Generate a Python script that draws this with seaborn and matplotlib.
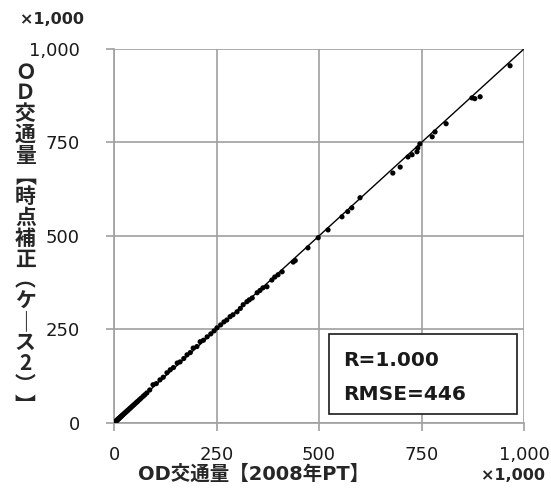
import matplotlib
matplotlib.use("Agg")
import matplotlib.pyplot as plt
import matplotlib.ticker as mticker
from matplotlib.patches import Rectangle
import pandas as pd
import seaborn as sns

# ── data (thousand trips) ────────────────────────────────────────────────
pt2008 = [2, 3, 4, 5, 6, 7, 8, 9, 10, 11, 12, 13, 15, 16, 18, 19, 21, 23, 25,
          27, 29, 31, 33, 35, 38, 40, 43, 46, 49, 52, 55, 58, 62, 66, 71, 75,
          80, 87, 95, 103, 112, 120, 129, 137, 145, 154, 161, 170, 178, 186,
          193, 202, 210, 218, 227, 236, 244, 251, 260, 268, 275, 283, 290,
          300, 308, 315, 324, 330, 337, 349, 356, 363, 373, 385, 392, 400,
          410, 437, 442, 473, 498, 522, 556, 570, 580, 600, 680, 698, 717,
          727, 739, 741, 746, 776, 783, 810, 873, 880, 893, 966]
case2 = [2, 3, 4, 5, 6, 7, 8, 9, 10, 11, 12, 13, 15, 16, 18, 19, 21, 23, 25,
         27, 29, 31, 33, 35, 38, 40, 43, 46, 49, 52, 55, 58, 62, 66, 71, 75,
         80, 88, 102, 105, 115, 122, 134, 142, 148, 160, 163, 172, 182, 188,
         200, 204, 217, 221, 230, 238, 246, 254, 262, 270, 275, 284, 289,
         297, 306, 316, 324, 329, 334, 348, 354, 361, 364, 382, 390, 396,
         404, 430, 434, 468, 495, 516, 551, 565, 575, 602, 668, 684, 711,
         717, 725, 735, 746, 765, 778, 800, 869, 867, 872, 955]
line_x = [0, 1000]
line_y = [0, 1000]
ticks = [0, 250, 500, 750, 1000]
stats_text = ["R=1.000", "RMSE=446"]
x_label = "OD交通量【2008年PT】"
y_chars = ["Ｏ", "Ｄ", "交", "通", "量", "︻", "時", "点", "補", "正",
           "︵", "ケ", "｜", "ス", "2", "︶", "︼"]
unit = "×1,000"

df = pd.DataFrame({"pt2008": pt2008, "case2": case2})

sns.set_theme(style="whitegrid")
plt.rcParams["font.family"] = ["DejaVu Sans", "Noto Sans CJK JP"]

fig = plt.figure(figsize=(5.51, 4.94), dpi=100)
ax = fig.add_axes([0.207, 0.144, 0.744, 0.757])

ax.plot(line_x, line_y, color="black", linewidth=1.0, zorder=2)
sns.scatterplot(data=df, x="pt2008", y="case2", ax=ax, color="black",
                s=14, edgecolor="none", zorder=3)

ax.set_xlim(0, 1000)
ax.set_ylim(0, 1000)
ax.set_xticks(ticks)
ax.set_yticks(ticks)
ax.xaxis.set_major_formatter(mticker.StrMethodFormatter("{x:,.0f}"))
ax.yaxis.set_major_formatter(mticker.StrMethodFormatter("{x:,.0f}"))
ax.grid(True, color="#a0a0a0", linewidth=1.2)
for s in ax.spines.values():
    s.set_visible(False)
for side in ("left", "bottom"):
    ax.spines[side].set_visible(True)
    ax.spines[side].set_color("#a0a0a0")
    ax.spines[side].set_linewidth(1.2)
ax.tick_params(axis="both", which="major", direction="out", length=5.5,
               width=1.2, color="#a0a0a0", labelsize=13, labelcolor="#1a1a1a",
               bottom=True, left=True)
ax.tick_params(axis="y", pad=19)
ax.tick_params(axis="x", pad=11)
ax.set_xlabel("")
ax.set_ylabel("")
ax.set_facecolor("white")

# statistics box
ax.add_patch(Rectangle((0.524, 0.024), 0.459, 0.214, transform=ax.transAxes,
                       facecolor="white", edgecolor="#1a1a1a", linewidth=1.2,
                       zorder=5))
for txt, yy in zip(stats_text, (0.168, 0.075)):
    ax.text(0.559, yy, txt, transform=ax.transAxes, fontsize=14.5,
            fontweight="bold", va="center", ha="left", color="#1a1a1a",
            zorder=6)

# axis titles
fig.text(0.46, 0.029, x_label, ha="center", va="baseline", fontsize=14,
         fontweight="bold", family=["DejaVu Sans", "Noto Sans CJK JP"])
fig.text(0.99, 0.029, unit, ha="right", va="baseline", fontsize=11.5,
         fontweight="bold")
fig.text(0.152, 0.946, unit, ha="right", va="bottom", fontsize=11.5,
         fontweight="bold")
top, bottom = 0.854, 0.180
step = (top - bottom) / (len(y_chars) - 1)
for i, ch in enumerate(y_chars):
    fig.text(0.046, top - i * step, ch, ha="center", va="center",
             fontsize=15, fontweight="bold",
             family=["Noto Sans CJK JP", "DejaVu Sans"])

fig.savefig("out.png", dpi=100)
